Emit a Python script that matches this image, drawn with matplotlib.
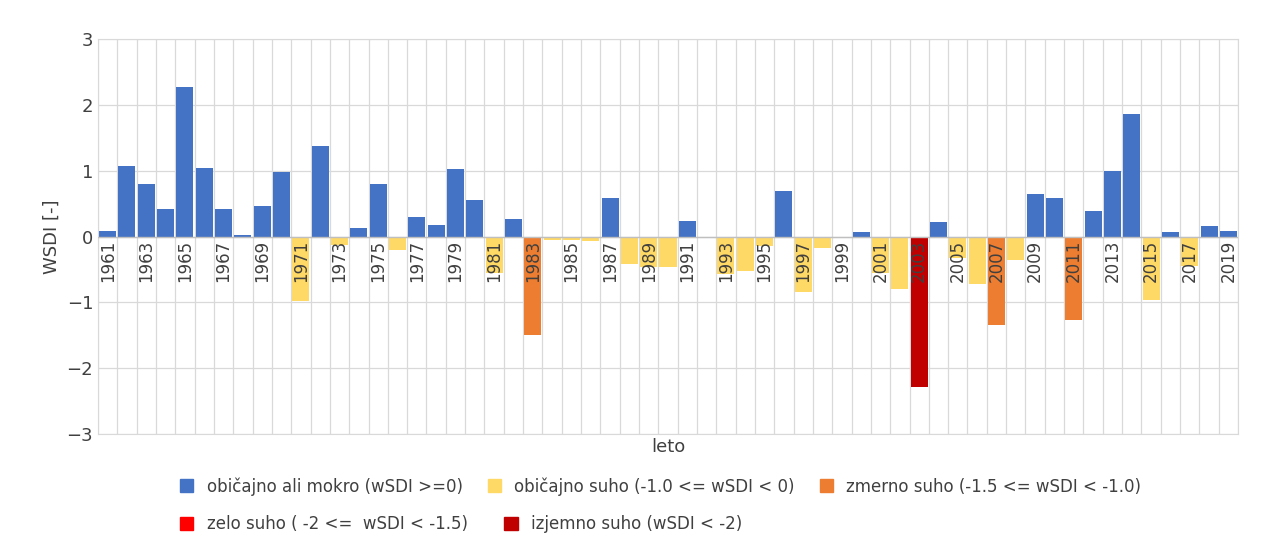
import numpy as np
import matplotlib
matplotlib.use("Agg")
from matplotlib import pyplot as plt
from matplotlib.patches import Patch

years = list(range(1961, 2020))
wsdi = [0.08, 1.07, 0.80, 0.42, 2.27, 1.04, 0.42, 0.02, 0.47, 0.98,
        -0.98, 1.37, -0.13, 0.13, 0.80, -0.20, 0.30, 0.18, 1.02, 0.55,
        -0.55, 0.27, -1.50, -0.05, -0.05, -0.07, 0.59, -0.42, -0.47, -0.47,
        0.24, 0.0, -0.57, -0.52, -0.14, 0.69, -0.85, -0.18, 0.0, 0.07,
        -0.55, -0.80, -2.28, 0.22, -0.33, -0.72, -1.34, -0.35, 0.64, 0.59,
        -1.27, 0.39, 0.99, 1.86, -0.97, 0.07, -0.45, 0.16, 0.09]

labels = ["običajno ali mokro (wSDI >=0)", "običajno suho (-1.0 <= wSDI < 0)",
          "zmerno suho (-1.5 <= wSDI < -1.0)", "zelo suho ( -2 <=  wSDI < -1.5)",
          "izjemno suho (wSDI < -2)"]
colors = ["#4472C4", "#FFD966", "#ED7D31", "#FF0000", "#C00000"]


def klass(v):
    if v >= 0:
        return 0
    if v >= -1.0:
        return 1
    if v >= -1.5:
        return 2
    if v >= -2:
        return 3
    return 4


fig = plt.figure(figsize=(12.62, 5.47), dpi=100)
ax = fig.add_axes([98/1262, 1 - 434/547, (1238-98)/1262, (434-39)/547])
x = np.arange(len(years))
ax.bar(x, wsdi, width=0.88, color=[colors[klass(v)] for v in wsdi], zorder=2)

ax.set_xlim(-0.5, len(years) - 0.5)
ax.set_ylim(-3, 3)
ax.set_yticks(range(-3, 4))
ax.tick_params(axis='y', length=0, labelsize=13, colors='#404040')
ax.set_xticks([])
for xv in np.arange(-0.5, len(years), 1):
    ax.axvline(xv, color='#D9D9D9', lw=0.9, zorder=1)
for yv in range(-3, 4):
    ax.axhline(yv, color='#D9D9D9', lw=0.9, zorder=1)
ax.axhline(0, color='#BFBFBF', lw=1, zorder=3)
for s in ax.spines.values():
    s.set_color('#D9D9D9')

for i, yr in enumerate(years):
    if i % 2 == 0:
        ax.text(i, -0.05, str(yr), rotation=90, ha='center', va='top',
                fontsize=12, color='#404040', zorder=4)

ax.set_ylabel("WSDI [-]", fontsize=13, color='#404040')
ax.set_xlabel("leto", fontsize=13, color='#404040', labelpad=3)

handles = [Patch(color=c) for c in colors]
fig.legend(handles[:3], labels[:3], loc='upper left', bbox_to_anchor=(165/1262, 1 - 462/547),
           ncol=3, frameon=False, fontsize=12, handlelength=0.8, handleheight=0.8,
           columnspacing=1.5, labelcolor='#404040')
fig.legend(handles[3:], labels[3:], loc='upper left', bbox_to_anchor=(165/1262, 1 - 500/547),
           ncol=2, frameon=False, fontsize=12, handlelength=0.8, handleheight=0.8,
           columnspacing=2.2, labelcolor='#404040')

fig.savefig("out.png", dpi=100)
